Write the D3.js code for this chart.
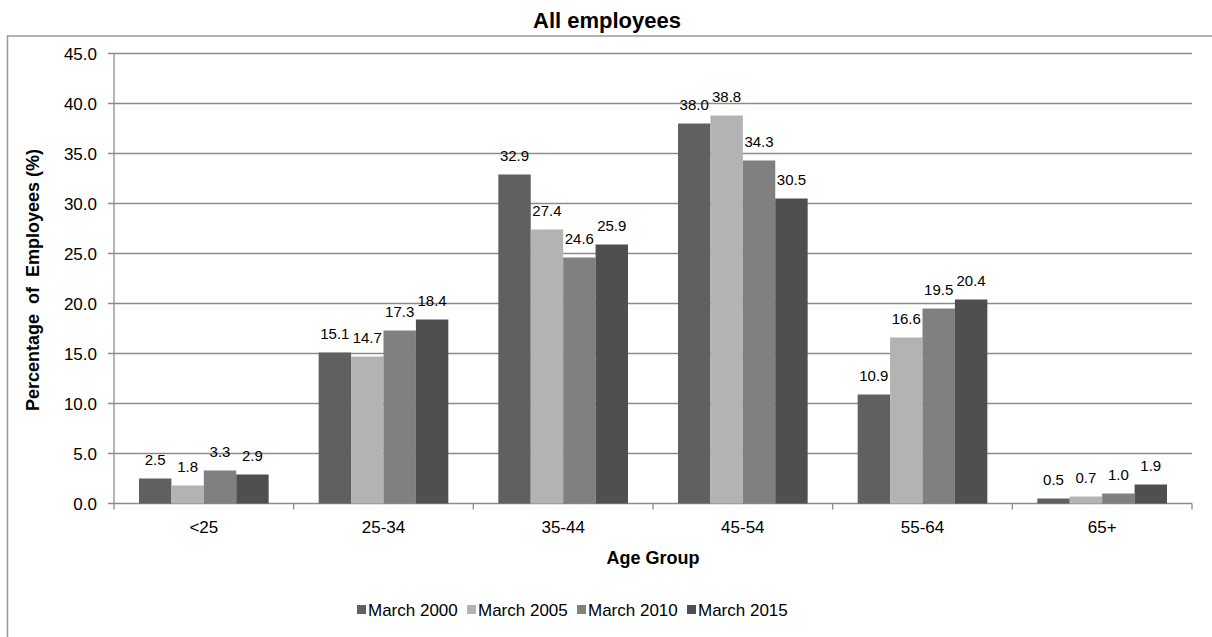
<!DOCTYPE html>
<html>
<head>
<meta charset="utf-8">
<script src="https://cdn.jsdelivr.net/npm/d3@7"></script>
<style>
  body { margin: 0; background: #fff; }
  text { font-family: "Liberation Sans", Arial, sans-serif; fill: #000; }
</style>
</head>
<body>
<script>
// Data
var ageGroups = ["<25", "25-34", "35-44", "45-54", "55-64", "65+"];
var seriesNames = ["March 2000", "March 2005", "March 2010", "March 2015"];
var march2000 = [2.5, 15.1, 32.9, 38.0, 10.9, 0.5];
var march2005 = [1.8, 14.7, 27.4, 38.8, 16.6, 0.7];
var march2010 = [3.3, 17.3, 24.6, 34.3, 19.5, 1.0];
var march2015 = [2.9, 18.4, 25.9, 30.5, 20.4, 1.9];
var yTicks = [0, 5, 10, 15, 20, 25, 30, 35, 40, 45];

var allSeries = [march2000, march2005, march2010, march2015];

//Width and height
var w = 1212;
var h = 637;

var svg = d3.select("body")
    .append("svg")
    .attr("width", w)
    .attr("height", h);

//Outer chart border (runs off the page on right and bottom)
svg.append("rect")
    .attr("x", 7.5)
    .attr("y", 36)
    .attr("width", 1300)
    .attr("height", 700)
    .style("fill", "none")
    .style("stroke", "#999")
    .style("stroke-width", 1.5);

//Title
svg.append("text")
    .attr("x", 607)
    .attr("y", 28)
    .attr("text-anchor", "middle")
    .style("font-size", "22px")
    .style("font-weight", "bold")
    .text("All employees");

//Scales
var x0 = d3.scaleBand()
    .domain(ageGroups)
    .range([114, 1192]);

var x1 = d3.scaleBand()
    .domain(seriesNames)
    .range([25, x0.bandwidth() - 25]);

var y = d3.scaleLinear()
    .domain([0, 45])
    .range([503.5, 53.5]);

var color = d3.scaleOrdinal()
    .domain(seriesNames)
    .range(["#606060", "#b3b3b3", "#808080", "#4f4f4f"]);

var grid = "#8c8c8c";

//Gridlines
svg.append("g")
    .selectAll("line")
    .data(yTicks)
    .enter()
    .append("line")
    .attr("x1", 108)
    .attr("x2", 1192)
    .attr("y1", function (d) { return y(d); })
    .attr("y2", function (d) { return y(d); })
    .style("stroke", grid)
    .style("stroke-width", 1.3);

//Y tick labels
svg.append("g")
    .selectAll("text")
    .data(yTicks)
    .enter()
    .append("text")
    .attr("x", 97)
    .attr("y", function (d) { return y(d) + 6; })
    .attr("text-anchor", "end")
    .style("font-size", "17px")
    .text(function (d) { return d3.format(".1f")(d); });

//Y axis line
svg.append("line")
    .attr("x1", 114).attr("x2", 114)
    .attr("y1", y(45)).attr("y2", y(0))
    .style("stroke", grid)
    .style("stroke-width", 1.3);

//X axis ticks at category boundaries
var bounds = ageGroups.map(function (d) { return x0(d); }).concat([x0.range()[1]]);
svg.append("g")
    .selectAll("line")
    .data(bounds)
    .enter()
    .append("line")
    .attr("x1", function (d) { return d; })
    .attr("x2", function (d) { return d; })
    .attr("y1", y(0))
    .attr("y2", y(0) + 6)
    .style("stroke", grid)
    .style("stroke-width", 1.3);

//Bars
var groups = svg.append("g")
    .selectAll("g")
    .data(ageGroups)
    .enter()
    .append("g")
    .attr("transform", function (d) { return "translate(" + x0(d) + ",0)"; });

var cells = groups.selectAll("g")
    .data(function (d, i) {
        return seriesNames.map(function (s, j) { return { key: s, value: allSeries[j][i] }; });
    })
    .enter()
    .append("g");

cells.append("rect")
    .attr("x", function (d) { return x1(d.key); })
    .attr("width", x1.bandwidth())
    .attr("y", function (d) { return y(d.value); })
    .attr("height", function (d) { return y(0) - y(d.value); })
    .style("fill", function (d) { return color(d.key); });

cells.append("text")
    .attr("x", function (d) { return x1(d.key) + x1.bandwidth() / 2; })
    .attr("y", function (d) { return y(d.value) - 14; })
    .attr("text-anchor", "middle")
    .style("font-size", "15px")
    .text(function (d) { return d3.format(".1f")(d.value); });

//Category labels
svg.append("g")
    .selectAll("text")
    .data(ageGroups)
    .enter()
    .append("text")
    .attr("x", function (d) { return x0(d) + x0.bandwidth() / 2; })
    .attr("y", 533)
    .attr("text-anchor", "middle")
    .style("font-size", "17px")
    .text(function (d) { return d; });

//Axis titles
svg.append("text")
    .attr("x", 653)
    .attr("y", 564)
    .attr("text-anchor", "middle")
    .style("font-size", "18px")
    .style("font-weight", "bold")
    .text("Age Group");

svg.append("text")
    .attr("transform", "translate(39," + 280 + ") rotate(-90)")
    .attr("text-anchor", "middle")
    .style("font-size", "18px")
    .style("font-weight", "bold")
    .style("white-space", "pre")
    .text("Percentage  of  Employees (%)");

//Legend
var legend = svg.append("g")
    .selectAll("g")
    .data(seriesNames)
    .enter()
    .append("g")
    .attr("transform", function (d, i) { return "translate(" + (357 + i * 110) + ",605)"; });

legend.append("rect")
    .attr("width", 9)
    .attr("height", 9)
    .style("fill", function (d) { return color(d); });

legend.append("text")
    .attr("x", 11)
    .attr("y", 10.5)
    .style("font-size", "17px")
    .text(function (d) { return d; });
</script>
</body>
</html>
